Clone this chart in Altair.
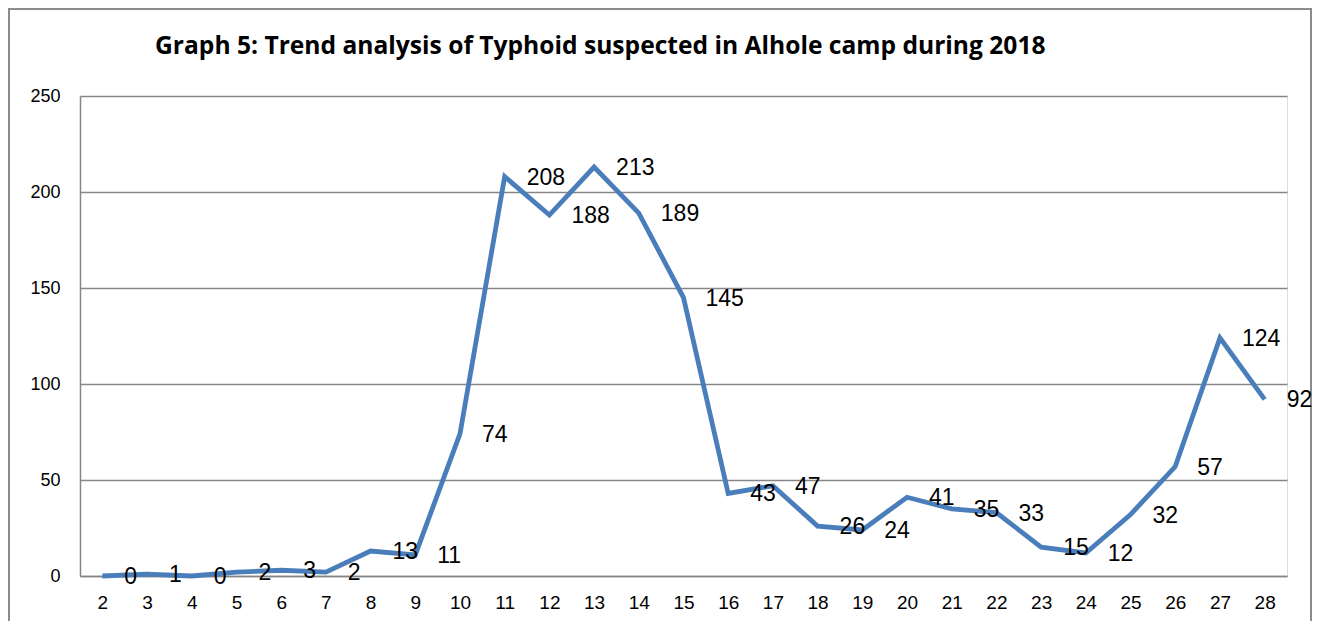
import altair as alt
import pandas as pd

weeks = ["2", "3", "4", "5", "6", "7", "8", "9", "10", "11", "12", "13", "14", "15",
         "16", "17", "18", "19", "20", "21", "22", "23", "24", "25", "26", "27", "28"]
cases = [0, 1, 0, 2, 3, 2, 13, 11, 74, 208, 188, 213, 189, 145,
         43, 47, 26, 24, 41, 35, 33, 15, 12, 32, 57, 124, 92]

df = pd.DataFrame({"week": weeks, "cases": cases})

x = alt.X("week:O", sort=weeks, title=None,
          scale=alt.Scale(type="point", padding=0.5),
          axis=alt.Axis(labelAngle=0, labelFont="Liberation Sans", labelFontSize=19,
                        labelColor="#000000", labelPadding=17, ticks=False,
                        domainColor="#868686", domainWidth=1.5, grid=False))
y = alt.Y("cases:Q", title=None,
          scale=alt.Scale(domain=[0, 250], nice=False),
          axis=alt.Axis(values=[0, 50, 100, 150, 200, 250], labelFont="Liberation Sans",
                        labelFontSize=18, labelColor="#000000", labelPadding=20,
                        ticks=False, domainColor="#868686", domainWidth=1.5,
                        gridColor="#868686", gridWidth=1.3))

base = alt.Chart(df)

line = base.mark_line(color="#4A7EBB", strokeWidth=4.8, strokeJoin="miter").encode(x=x, y=y)

labels = base.mark_text(align="left", baseline="middle", dx=22, dy=1,
                        font="Liberation Sans", fontSize=23, color="#000000").encode(
    x=x, y=y, text="cases:Q")

frame = alt.Chart(alt.Data(values=[{"f": 1}])).mark_rect(
    fill=None, stroke="#8c8c8c", strokeWidth=2, clip=False).encode(
    x=alt.value(-71), x2=alt.value(1231), y=alt.value(-87), y2=alt.value(530))

chart = alt.layer(frame, line, labels).properties(
    width=1207, height=480,
    autosize=alt.AutoSizeParams(type="none"),
    padding={"left": 72, "top": 88, "right": 26, "bottom": 45},
    title=alt.TitleParams(
        "Graph 5: Trend analysis of Typhoid suspected in Alhole camp during  2018",
        anchor="start", frame="group", dx=75, offset=-71, baseline="alphabetic",
        font="Open Sans", fontSize=24.6, fontWeight="bold", color="#000000"),
).configure_view(stroke=None).configure(background="#ffffff")

chart.save("out.html", embed_options={"renderer": "svg", "actions": False})
